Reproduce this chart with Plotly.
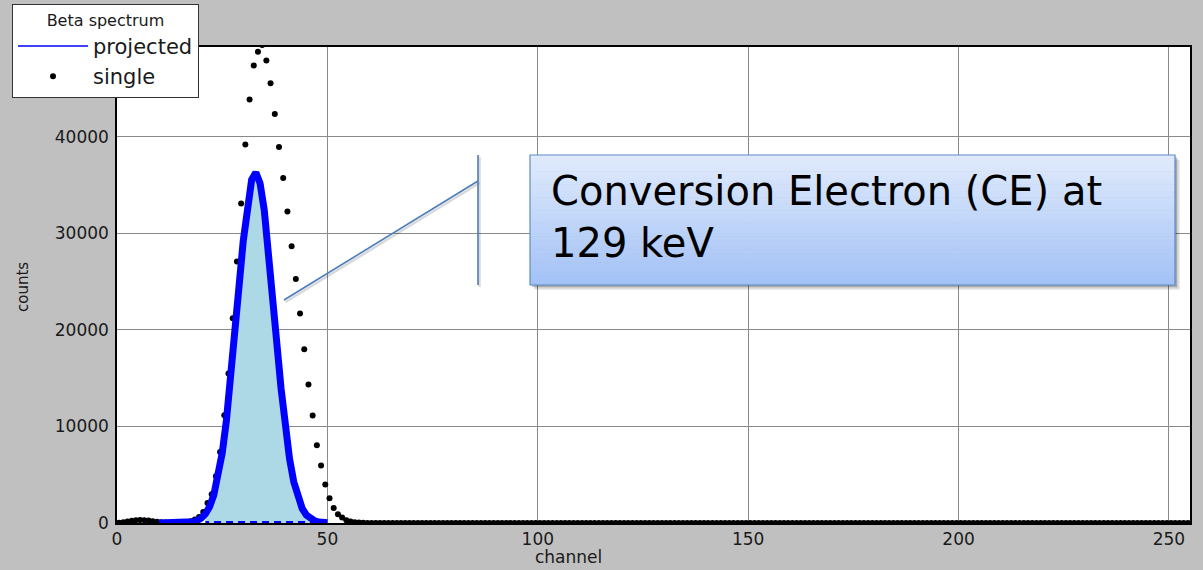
import plotly.graph_objects as go

# ---------------------------------------------------------------- data ----
# single-detector beta spectrum: one count per channel bin (bin centres)
single_channel = [c + 0.5 for c in range(256)]
single_counts = [
    30, 90, 160, 230, 280, 300, 290, 250, 190, 120,            # 0-9
    70, 40, 25, 20, 30, 50, 100, 190, 350, 620,                # 10-19
    1140, 2070, 2970, 4840, 7360, 11160, 15480, 21210, 27080, 33090,   # 20-29
    39200, 43860, 47390, 48800, 49500, 47900, 45550, 42370, 38950, 35740,  # 30-39
    32260, 28670, 25280, 21690, 18000, 14340, 11130, 8050, 5950, 3980,  # 40-49
    2560, 1550, 900, 560, 280, 150, 80, 40, 20, 10,            # 50-59
] + [0] * 196                                                  # 60-255

# projected spectrum (integer channels)
projected_channel = list(range(10, 51))
projected_counts = [
    0, 0, 0, 0, 5, 10, 25, 55, 120, 250,                       # 10-19
    490, 940, 1690, 2890, 4690, 7240, 10610, 14780, 19520, 24510,  # 20-29
    29210, 33070, 35550, 36300, 35180, 32390, 28330, 23520, 18540, 13890,  # 30-39
    9870, 6670, 4280, 2610, 1510, 830, 430, 210, 100, 45,      # 40-49
    20,                                                        # 50
]

# channel window of the shaded conversion-electron peak
peak_first, peak_last = 21, 49

x_ticks = [0, 50, 100, 150, 200, 250]
y_ticks = [0, 10000, 20000, 30000, 40000]
x_range = [0, 255]
y_range = [0, 49300]

x_title = "channel"
y_title = "counts"
callout_text = "Conversion Electron (CE) at<br>129 keV"

# -------------------------------------------------------------- layout ----
W, H = 1203, 570
ML, MR, MT, MB = 117, 13, 47, 47
PW, PH = W - ML - MR, H - MT - MB


def px_x(px):
    """page pixel column -> paper x"""
    return (px - ML) / PW


def px_y(py):
    """page pixel row -> paper y"""
    return (H - MB - py) / PH


fig = go.Figure()

# shaded peak with dashed outline
sel = [i for i, c in enumerate(projected_channel) if peak_first <= c <= peak_last]
fx = [projected_channel[i] for i in sel]
fy = [projected_counts[i] for i in sel]
fig.add_trace(go.Scatter(
    x=fx + [fx[-1], fx[0]], y=fy + [0, 0],
    mode="lines", fill="toself", fillcolor="#add8e6",
    line=dict(color="#0000ff", width=4, dash="7px,5px"),
    showlegend=False, hoverinfo="skip",
))

# single spectrum: dots
fig.add_trace(go.Scatter(
    x=single_channel, y=single_counts, mode="markers",
    marker=dict(color="black", size=6),
    name="single", legendrank=2,
))

# projected spectrum: thick line
fig.add_trace(go.Scatter(
    x=projected_channel, y=projected_counts, mode="lines",
    line=dict(color="#0000ff", width=7),
    showlegend=False, hoverinfo="skip",
))
# thin legend key for the projected spectrum
fig.add_trace(go.Scatter(
    x=[None], y=[None], mode="lines",
    line=dict(color="#0000ff", width=1.5),
    name="projected", legendrank=1,
))

shapes = []

# callout pointer (with faint shadow)
for dx, dy, col, w in [(1.5, 2, "rgba(0,0,0,0.15)", 2.5), (0, 0, "#4a7ebb", 1.6)]:
    shapes.append(dict(type="line", xref="paper", yref="paper", layer="above",
                       x0=px_x(284 + dx), y0=px_y(300 + dy),
                       x1=px_x(478 + dx), y1=px_y(181 + dy),
                       line=dict(color=col, width=w)))
    shapes.append(dict(type="line", xref="paper", yref="paper", layer="above",
                       x0=px_x(478 + dx), y0=px_y(155 + dy),
                       x1=px_x(478 + dx), y1=px_y(285 + dy),
                       line=dict(color=col, width=w)))

# callout box: drop shadow, vertical gradient, border
bx0, bx1, by0, by1 = 530, 1175, 155, 285
for off, alpha in [(5, 0.08), (3.5, 0.12), (2, 0.18)]:
    shapes.append(dict(type="rect", xref="paper", yref="paper", layer="above",
                       x0=px_x(bx0 + off), x1=px_x(bx1 + off),
                       y0=px_y(by0 + off), y1=px_y(by1 + off),
                       fillcolor=f"rgba(0,0,0,{alpha})", line=dict(width=0)))
top_rgb, bot_rgb = (224, 234, 252), (163, 194, 246)
n_steps = 40
for k in range(n_steps):
    t = k / (n_steps - 1)
    rgb = tuple(round(a + (b - a) * t) for a, b in zip(top_rgb, bot_rgb))
    y_a = by0 + (by1 - by0) * k / n_steps
    y_b = by0 + (by1 - by0) * (k + 1) / n_steps + 0.6
    shapes.append(dict(type="rect", xref="paper", yref="paper", layer="above",
                       x0=px_x(bx0), x1=px_x(bx1), y0=px_y(y_a), y1=px_y(min(y_b, by1)),
                       fillcolor="rgb(%d,%d,%d)" % rgb, line=dict(width=0)))
shapes.append(dict(type="rect", xref="paper", yref="paper", layer="above",
                   x0=px_x(bx0), x1=px_x(bx1), y0=px_y(by0), y1=px_y(by1),
                   fillcolor="rgba(0,0,0,0)", line=dict(color="#5b8bc9", width=1.2)))

title_font = dict(family="DejaVu Sans", size=16, color="#1a1a1a")
annotations = [
    dict(xref="paper", yref="paper", x=px_x(549), y=px_y(166),
         xanchor="left", yanchor="top", align="left", showarrow=False,
         text=callout_text,
         font=dict(family="DejaVu Sans", size=40, color="black")),
    # axis titles
    dict(xref="paper", yref="paper", x=px_x(568), y=px_y(557),
         xanchor="center", yanchor="middle", showarrow=False,
         text=x_title, font=dict(family="DejaVu Sans", size=17, color="#1a1a1a")),
    dict(xref="paper", yref="paper", x=px_x(23), y=px_y(287),
         xanchor="center", yanchor="middle", showarrow=False, textangle=-90,
         text=y_title, font=dict(family="DejaVu Sans", size=15, color="#1a1a1a")),
]

axis_font = dict(family="DejaVu Sans", size=17, color="#1a1a1a")

fig.update_layout(
    width=W, height=H,
    margin=dict(l=ML, r=MR, t=MT, b=MB, pad=0, autoexpand=False),
    paper_bgcolor="#c0c0c0",
    plot_bgcolor="white",
    font=dict(family="DejaVu Sans", color="#1a1a1a"),
    shapes=shapes,
    annotations=annotations,
    legend=dict(
        xref="container", yref="container",
        x=12 / W, y=1 - 4 / H, xanchor="left", yanchor="top",
        bgcolor="white", bordercolor="#333333", borderwidth=1,
        font=dict(family="DejaVu Sans", size=21, color="#1a1a1a"),
        title=dict(text="Beta spectrum", side="top center",
                   font=dict(family="DejaVu Sans", size=16, color="#1a1a1a")),
        itemwidth=70, tracegroupgap=0,
    ),
    xaxis=dict(
        range=x_range, tickvals=x_ticks, tickfont=axis_font, automargin=False,
        showgrid=True, gridcolor="#8a8a8a", gridwidth=1, zeroline=False,
        showline=True, mirror=True, linecolor="black", linewidth=1.5,
        ticks="", ticklabelstandoff=0,
    ),
    yaxis=dict(
        range=y_range, tickvals=y_ticks, tickformat="d", tickfont=axis_font,
        automargin=False,
        showgrid=True, gridcolor="#8a8a8a", gridwidth=1, zeroline=False,
        showline=True, mirror=True, linecolor="black", linewidth=1.5,
        ticks="", ticklabelstandoff=3,
    ),
)

fig.write_html("out.html")
